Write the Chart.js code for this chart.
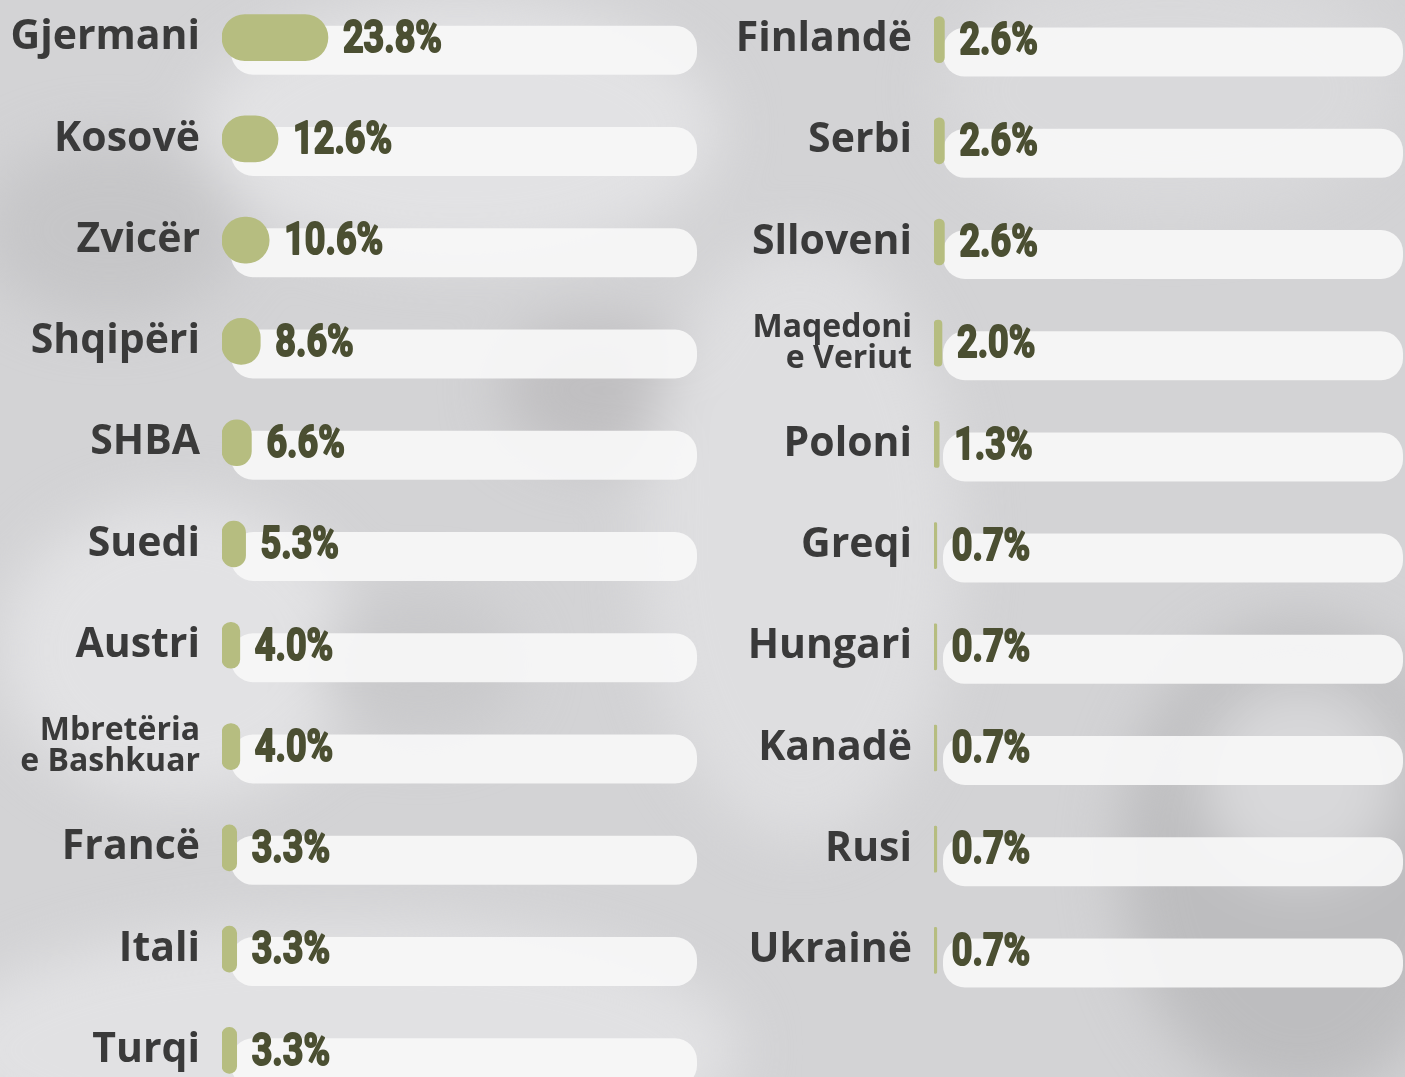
<!DOCTYPE html>
<html>
<head>
<meta charset="utf-8">
<script src="https://cdn.jsdelivr.net/npm/chart.js@4.4.1/dist/chart.umd.min.js"></script>
<style>
  html, body { margin: 0; padding: 0; width: 1405px; height: 1077px; overflow: hidden; }
  body { position: relative; background: #d3d3d5; }
  #bg { position: absolute; left: -60px; top: -60px; width: 1525px; height: 1197px; filter: blur(28px); }
  #bg div { position: absolute; border-radius: 50%; }
  canvas { position: absolute; }
  #left-chart { left: 0; top: -13px; }
  #right-chart { left: 712px; top: -11px; }
</style>
</head>
<body>
<div id="bg">
  <div style="left:260px;top:60px;width:520px;height:260px;background:#e2e2e4"></div>
  <div style="left:40px;top:200px;width:260px;height:180px;background:#c6c6c8"></div>
  <div style="left:560px;top:380px;width:200px;height:140px;background:#c0bfc1"></div>
  <div style="left:700px;top:300px;width:320px;height:600px;background:#dedee0"></div>
  <div style="left:60px;top:560px;width:360px;height:300px;background:#e2e2e4"></div>
  <div style="left:0px;top:980px;width:800px;height:260px;background:#e1e1e3"></div>
  <div style="left:1180px;top:680px;width:360px;height:480px;background:#bdbdbf"></div>
  <div style="left:1260px;top:740px;width:200px;height:200px;background:#d8d8da"></div>
  <div style="left:1000px;top:20px;width:460px;height:260px;background:#d9d9db"></div>
  <div style="left:380px;top:650px;width:200px;height:150px;background:#c9c9cb"></div>
</div>
<canvas id="left-chart" width="705" height="1114"></canvas>
<canvas id="right-chart" width="693" height="1012"></canvas>
<script>
// countries and shares (%), left column then right column
var leftCountries = ['Gjermani', 'Kosovë', 'Zvicër', 'Shqipëri', 'SHBA', 'Suedi', 'Austri',
  ['Mbretëria', 'e Bashkuar'], 'Francë', 'Itali', 'Turqi'];
var leftShares = [23.8, 12.6, 10.6, 8.6, 6.6, 5.3, 4.0, 4.0, 3.3, 3.3, 3.3];

var rightCountries = ['Finlandë', 'Serbi', 'Slloveni', ['Maqedoni', 'e Veriut'], 'Poloni',
  'Greqi', 'Hungari', 'Kanadë', 'Rusi', 'Ukrainë'];
var rightShares = [2.6, 2.6, 2.6, 2.0, 1.3, 0.7, 0.7, 0.7, 0.7, 0.7];

var green = '#b6bd80';
var textDark = '#4b4f32';
var labelGrey = '#3a3a3a';

// white pill behind each bar + the value text
var trackPlugin = {
  id: 'tracks',
  beforeDatasetsDraw: function(chart, args, opts) {
    var ctx = chart.ctx;
    var meta = chart.getDatasetMeta(0);
    ctx.save();
    ctx.fillStyle = 'rgba(247,247,247,0.92)';
    meta.data.forEach(function(bar) {
      var x0 = chart.chartArea.left + 9;
      ctx.beginPath();
      ctx.roundRect(x0, bar.y - 12, opts.right - x0, 49, 22);
      ctx.fill();
    });
    ctx.restore();
  },
  afterDatasetsDraw: function(chart) {
    var ctx = chart.ctx;
    var meta = chart.getDatasetMeta(0);
    var values = chart.data.datasets[0].data;
    ctx.save();
    ctx.fillStyle = textDark;
    ctx.strokeStyle = textDark;
    ctx.lineWidth = 2;
    ctx.lineJoin = 'round';
    ctx.font = 'bold 45px Roboto';
    ctx.textBaseline = 'middle';
    meta.data.forEach(function(bar, i) {
      var txt = values[i].toFixed(1) + '%';
      ctx.save();
      ctx.translate(bar.x + 15, bar.y + 3);
      ctx.scale(0.8, 1);
      ctx.strokeText(txt, 0, 0);
      ctx.fillText(txt, 0, 0);
      ctx.restore();
    });
    ctx.restore();
  }
};

function makeChart(id, labels, values, maxVal, trackRight) {
  var ctx = document.getElementById(id).getContext('2d');
  return new Chart(ctx, {
    type: 'bar',
    data: {
      labels: labels,
      datasets: [{
        data: values,
        backgroundColor: green,
        borderRadius: 24,
        borderSkipped: false,
        barThickness: 46
      }]
    },
    options: {
      indexAxis: 'y',
      responsive: false,
      animation: false,
      devicePixelRatio: 1,
      layout: { padding: 0 },
      plugins: {
        legend: { display: false },
        tooltip: { enabled: false },
        tracks: { right: trackRight }
      },
      scales: {
        x: { display: false, min: 0, max: maxVal },
        y: {
          grid: { display: false },
          border: { display: false },
          afterFit: function(scale) {
            scale.width = 222;
            scale.paddingTop = 0;
            scale.paddingBottom = 0;
          },
          ticks: {
            padding: 14,
            color: labelGrey,
            font: function(c) {
              var lbl = labels[c.index];
              if (Array.isArray(lbl)) {
                return { family: 'Open Sans', weight: '700', size: 32, lineHeight: 0.98 };
              }
              return { family: 'Open Sans', weight: '700', size: 41 };
            }
          }
        }
      }
    },
    plugins: [trackPlugin]
  });
}

makeChart('left-chart', leftCountries, leftShares, 108.5, 697);
makeChart('right-chart', rightCountries, rightShares, 118, 691);
</script>
</body>
</html>
